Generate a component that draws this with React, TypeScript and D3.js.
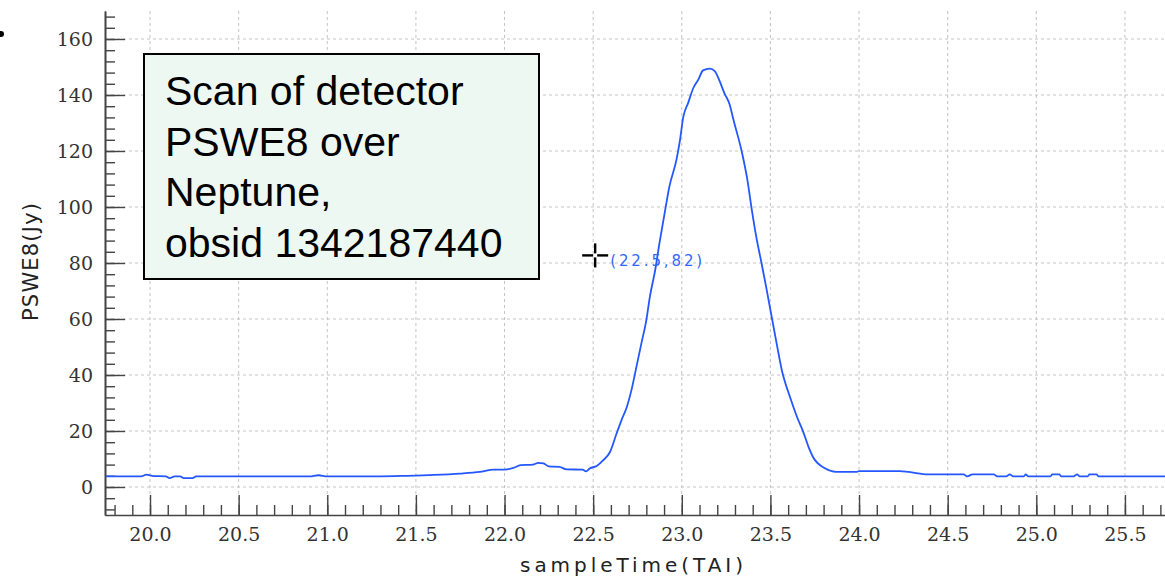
import React, { useEffect, useRef } from 'react';
import * as d3 from 'd3';

// scan of PSWE8 over Neptune
const sampleTime = [
  19.75, 19.95, 19.98, 20.02, 20.09, 20.11, 20.14, 20.17, 20.19, 20.24, 20.26,
  20.6, 20.9, 20.95, 21.0, 21.3, 21.45, 21.6, 21.75, 21.86, 21.94, 22.0,
  22.05, 22.09, 22.16, 22.19, 22.22, 22.25, 22.31, 22.35, 22.44, 22.46, 22.48,
  22.52, 22.557, 22.595, 22.632, 22.66, 22.69, 22.716, 22.744, 22.772, 22.8,
  22.82, 22.85, 22.874, 22.9, 22.93, 22.97, 22.99, 23.008, 23.036, 23.065,
  23.093, 23.12, 23.158, 23.186, 23.21, 23.24, 23.27, 23.29, 23.34, 23.37,
  23.395, 23.42, 23.45, 23.479, 23.507, 23.535, 23.564, 23.61, 23.65, 23.685,
  23.72, 23.74, 23.81, 23.87, 23.985, 24.0, 24.23, 24.28, 24.39, 24.59, 24.61,
  24.64, 24.76, 24.78, 24.83, 24.85, 24.87, 24.93, 24.94, 24.955, 25.08, 25.09,
  25.13, 25.14, 25.21, 25.23, 25.245, 25.29, 25.3, 25.34, 25.35, 25.73,
];
const flux = [
  3.8, 3.8, 4.4, 3.9, 3.8, 3.2, 3.8, 3.8, 3.2, 3.2, 3.8,
  3.8, 3.8, 4.2, 3.8, 3.8, 4.0, 4.3, 4.8, 5.4, 6.2, 6.2,
  6.8, 7.8, 8.0, 8.6, 8.4, 7.4, 7.2, 6.3, 6.2, 5.6, 6.6,
  7.5, 9.6, 12.5, 19.1, 23.9, 28.6, 34.6, 42.9, 51.3, 59.6,
  68.0, 77.5, 87.1, 96.6, 107.3, 116.9, 124.0, 132.0, 137.2, 142.5,
  145.5, 148.8, 149.4, 148.5, 145.5, 140.7, 136.6, 131.5, 119.3, 109.7,
  99.0, 89.4, 79.9, 70.4, 60.8, 51.3, 41.8, 32.2, 25.0, 19.7,
  13.5, 10.7, 6.6, 5.4, 5.4, 5.7, 5.7, 5.4, 4.5, 4.5, 3.8,
  4.5, 4.5, 3.8, 3.8, 4.5, 3.8, 3.8, 4.5, 3.8, 3.8, 4.5,
  4.5, 3.8, 3.8, 4.5, 3.8, 3.8, 4.5, 4.5, 3.8, 3.8,
];

const xTicks = [20.0, 20.5, 21.0, 21.5, 22.0, 22.5, 23.0, 23.5, 24.0, 24.5, 25.0, 25.5];
const yTicks = [0, 20, 40, 60, 80, 100, 120, 140, 160];

const cursor = { x: 22.5, y: 82, label: '(22.5,82)' };
const noteLines = ['Scan of detector', 'PSWE8 over', 'Neptune,', 'obsid 1342187440'];

const App = () => {
  const ref = useRef<SVGSVGElement>(null);

  useEffect(() => {
    const svg = d3.select(ref.current);
    svg.selectAll('*').remove();

    const width = 1165;
    const height = 579;
    const left = 105;
    const bottom = 515;

    const x = d3.scaleLinear().domain([19.746, 25.726]).range([left, width]);
    const y = d3.scaleLinear().domain([-10, 170]).range([bottom, 11]);

    const xMinor = d3.range(198, 258).map(d => d / 10);
    const yMinor = d3.range(-8, 171, 4);

    // bullet fragment at the slide edge
    svg.append('circle').attr('cx', 1).attr('cy', 34).attr('r', 3).attr('fill', '#000');

    // grid
    const grid = svg.append('g')
      .attr('stroke', '#c4c4c4')
      .attr('stroke-width', 1)
      .attr('stroke-dasharray', '3,3');
    grid.selectAll('.gx').data(xTicks).join('line')
      .attr('x1', d => x(d)).attr('x2', d => x(d))
      .attr('y1', y(170)).attr('y2', bottom);
    grid.selectAll('.gy').data(yTicks).join('line')
      .attr('x1', left).attr('x2', width)
      .attr('y1', d => y(d)).attr('y2', d => y(d));

    const style = (g: any) => {
      g.attr('font-family', '"DejaVu Serif", serif').attr('font-size', 19);
      g.selectAll('.domain').attr('stroke', '#444').attr('stroke-width', 1.6);
      g.selectAll('.tick line').attr('stroke', '#444').attr('stroke-width', 1.4);
      g.selectAll('text').attr('fill', '#333');
    };

    // y axis: labels outside, ticks inside
    svg.append('g').attr('transform', `translate(${left},0)`)
      .call(d3.axisLeft(y).tickValues(yTicks).tickSize(0).tickPadding(12).tickFormat(d3.format('d')))
      .call(style);
    svg.append('g').attr('transform', `translate(${left},0)`)
      .call(d3.axisRight(y).tickValues(yMinor).tickSize(10).tickSizeOuter(0).tickFormat(() => ''))
      .call(style);
    svg.append('g').attr('transform', `translate(${left},0)`)
      .call(d3.axisRight(y).tickValues(yTicks).tickSize(20).tickSizeOuter(0).tickFormat(() => ''))
      .call(style)
      .call(g => g.select('.domain').remove());

    // x axis
    svg.append('g').attr('transform', `translate(0,${bottom})`)
      .call(d3.axisBottom(x).tickValues(xTicks).tickSize(0).tickPadding(13).tickFormat(d3.format('.1f')))
      .call(style)
      .call(g => g.select('.domain').remove());
    svg.append('g').attr('transform', `translate(0,${bottom})`)
      .call(d3.axisTop(x).tickValues(xMinor).tickSize(10).tickSizeOuter(0).tickFormat(() => ''))
      .call(style);
    svg.append('g').attr('transform', `translate(0,${bottom})`)
      .call(d3.axisTop(x).tickValues(xTicks).tickSize(20).tickSizeOuter(0).tickFormat(() => ''))
      .call(style)
      .call(g => g.select('.domain').remove());

    // axis titles
    svg.append('text')
      .attr('transform', 'translate(38,262) rotate(-90)')
      .attr('text-anchor', 'middle')
      .attr('font-family', '"DejaVu Sans", sans-serif')
      .attr('font-size', 21)
      .attr('fill', '#222')
      .attr('textLength', 118)
      .attr('lengthAdjust', 'spacing')
      .text('PSWE8(Jy)');
    svg.append('text')
      .attr('x', 520).attr('y', 572)
      .attr('font-family', '"DejaVu Sans", sans-serif')
      .attr('font-size', 20)
      .attr('fill', '#222')
      .attr('textLength', 223)
      .attr('lengthAdjust', 'spacing')
      .text('sampleTime(TAI)');

    // the scan
    const pts = sampleTime.map((t, i) => [t, flux[i]] as [number, number]);
    const line = d3.line<[number, number]>().x(d => x(d[0])).y(d => y(d[1])).curve(d3.curveMonotoneX);
    svg.append('path')
      .datum(pts)
      .attr('d', line)
      .attr('fill', 'none')
      .attr('stroke', '#2457ff')
      .attr('stroke-width', 1.8);

    // cursor readout
    const cx = x(cursor.x) + 2;
    const cy = y(cursor.y) - 2;
    const cross = svg.append('g').attr('stroke', '#000').attr('stroke-width', 2.4);
    [[-13, -2, 0, 0], [2, 13, 0, 0], [0, 0, -12, -2], [0, 0, 2, 12]].forEach(s => {
      cross.append('line')
        .attr('x1', cx + s[0]).attr('x2', cx + s[1])
        .attr('y1', cy + s[2]).attr('y2', cy + s[3]);
    });
    svg.append('text')
      .attr('x', cx + 15).attr('y', cy + 11)
      .attr('font-family', '"DejaVu Sans", sans-serif')
      .attr('font-size', 15)
      .attr('fill', '#3366ff')
      .attr('textLength', 92)
      .attr('lengthAdjust', 'spacing')
      .text(cursor.label);

    // annotation box
    svg.append('rect')
      .attr('x', 144).attr('y', 54).attr('width', 395).attr('height', 225)
      .attr('fill', '#eef8f3').attr('stroke', '#000').attr('stroke-width', 2);
    svg.append('g')
      .selectAll('text')
      .data(noteLines)
      .join('text')
      .attr('x', 165)
      .attr('y', (d, i) => 105 + i * 50.7)
      .attr('font-family', '"Liberation Sans", Arial, sans-serif')
      .attr('font-size', 41)
      .attr('fill', '#000')
      .text(d => d);

    svg.attr('width', width).attr('height', height);
  }, []);

  return (
    <svg ref={ref} width={1165} height={579}
      style={{ position: 'absolute', left: 0, top: 0, background: '#fff' }} />
  );
};

export default App;
